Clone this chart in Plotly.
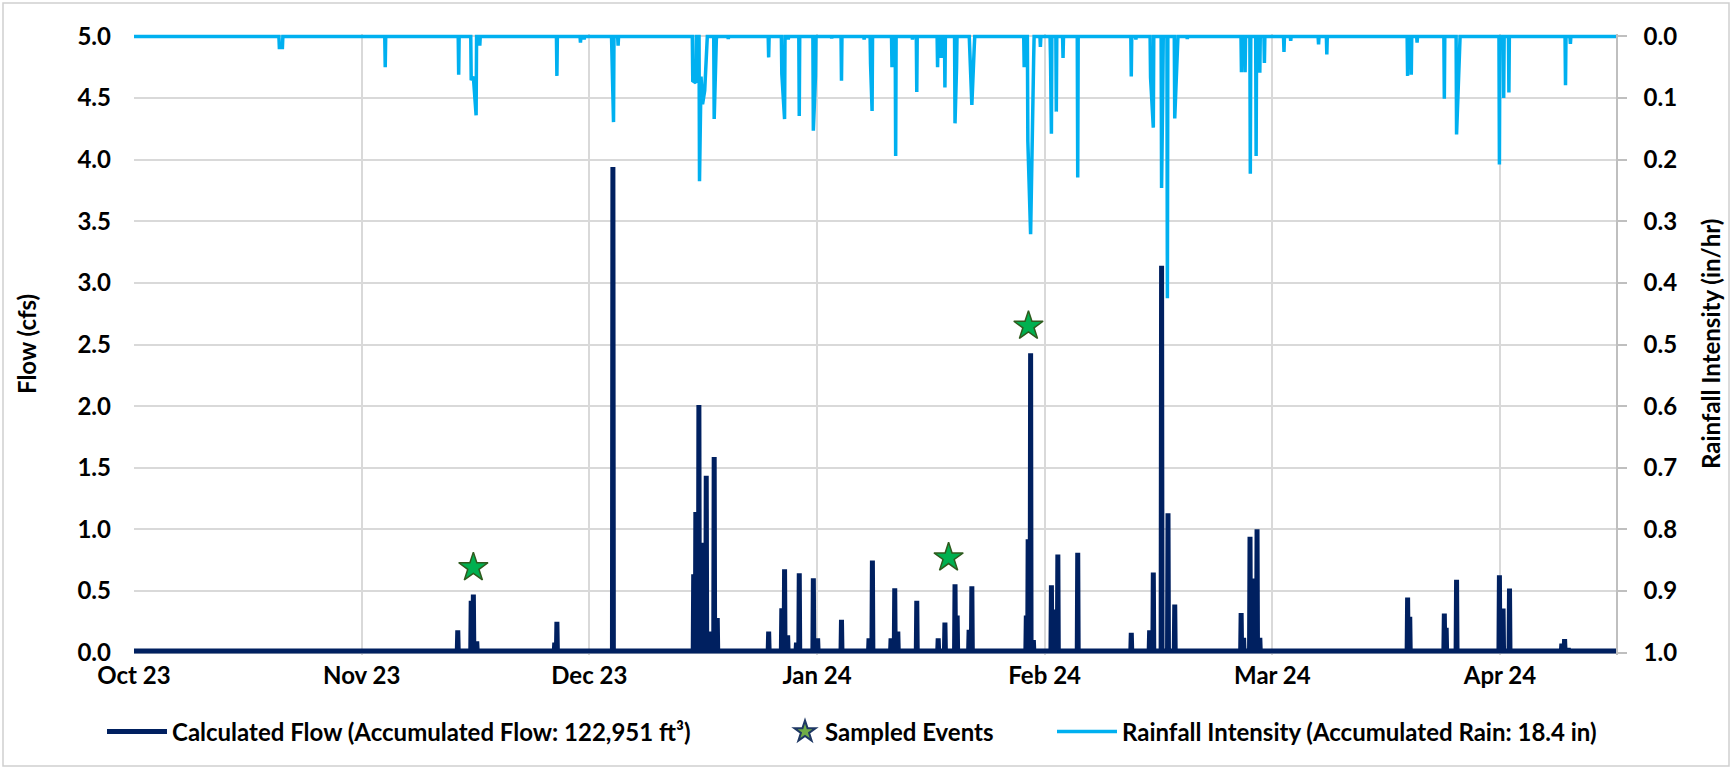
import pandas as pd
import plotly.graph_objects as go

FLOW_COLOR = "#002060"
RAIN_COLOR = "#00B0F0"
GRID_COLOR = "#D9D9D9"
FONT = "Lato"
FONT_SIZE = 24

# time axis: ticks every 31 days from the start of the record
x_start = "2023-10-01 00:00"
x_end = "2024-04-19 19:00"
tick_labels = ["Oct 23", "Nov 23", "Dec 23", "Jan 24", "Feb 24", "Mar 24", "Apr 24"]

# value axes
flow_ticks = [0.0, 0.5, 1.0, 1.5, 2.0, 2.5, 3.0, 3.5, 4.0, 4.5, 5.0]
rain_ticks = [0.0, 0.1, 0.2, 0.3, 0.4, 0.5, 0.6, 0.7, 0.8, 0.9, 1.0]

# calculated flow (cfs): storm peaks; the line rests on a small baseline between them
flow_base = 0.012
flow_times = [
    "2023-11-14 02:00", "2023-11-15 22:00", "2023-11-16 05:00", "2023-11-16 16:00",
    "2023-11-27 07:00", "2023-11-27 14:00", "2023-12-05 05:00",
    "2023-12-16 05:00", "2023-12-16 12:00", "2023-12-16 22:00", "2023-12-17 08:00",
    "2023-12-17 22:00", "2023-12-18 07:00", "2023-12-19 00:00", "2023-12-19 10:00",
    "2023-12-26 10:00", "2023-12-28 05:00", "2023-12-28 14:00", "2023-12-29 00:00",
    "2023-12-30 05:00", "2023-12-30 14:00", "2024-01-01 12:00", "2024-01-02 02:00",
    "2024-01-05 08:00", "2024-01-09 02:00", "2024-01-09 13:00",
    "2024-01-12 02:00", "2024-01-12 14:00", "2024-01-13 00:00", "2024-01-15 14:00",
    "2024-01-18 12:00", "2024-01-19 10:00", "2024-01-20 19:00", "2024-01-21 02:00",
    "2024-01-22 17:00", "2024-01-23 02:00",
    "2024-01-30 12:00", "2024-01-30 18:00", "2024-01-31 02:00", "2024-01-31 11:00",
    "2024-02-02 22:00", "2024-02-03 10:00", "2024-02-03 19:00", "2024-02-06 12:00",
    "2024-02-13 19:00", "2024-02-16 07:00", "2024-02-16 19:00", "2024-02-17 22:00",
    "2024-02-18 19:00", "2024-02-19 17:00",
    "2024-02-28 18:00", "2024-02-29 02:00", "2024-02-29 23:00", "2024-03-01 11:00",
    "2024-03-01 22:00", "2024-03-02 07:00",
    "2024-03-22 10:00", "2024-03-22 17:00", "2024-03-27 10:00", "2024-03-27 16:00",
    "2024-03-29 02:00", "2024-04-03 22:00", "2024-04-04 10:00", "2024-04-05 07:00",
    "2024-04-12 10:00", "2024-04-12 19:00", "2024-04-13 07:00",
]
flow_values = [
    0.18, 0.42, 0.47, 0.09,
    0.08, 0.25, 3.94,
    0.635, 1.14, 2.01, 0.89,
    1.435, 0.17, 1.586, 0.28,
    0.17, 0.36, 0.676, 0.14,
    0.08, 0.643, 0.603, 0.116,
    0.265, 0.116, 0.746,
    0.116, 0.522, 0.17, 0.42,
    0.116, 0.243, 0.554, 0.30,
    0.185, 0.538,
    0.30, 0.92, 2.43, 0.10,
    0.546, 0.35, 0.795, 0.81,
    0.16, 0.18, 0.65, 3.14,
    1.13, 0.39,
    0.32, 0.12, 0.94, 0.60,
    1.00, 0.12,
    0.446, 0.29, 0.316, 0.20,
    0.59, 0.627, 0.357, 0.52,
    0.073, 0.11, 0.035,
]

# rainfall intensity (in/hr)
rain_base = 0.0
rain_times = [
    "2023-10-20 19:00", "2023-10-21 05:00", "2023-11-04 05:00", "2023-11-14 05:00",
    "2023-11-15 22:00", "2023-11-16 05:00", "2023-11-16 14:00", "2023-11-17 02:00",
    "2023-11-27 14:00", "2023-11-30 19:00", "2023-12-01 07:00",
    "2023-12-05 02:00", "2023-12-05 07:00", "2023-12-05 22:00",
    "2023-12-16 02:00", "2023-12-16 12:00", "2023-12-17 00:00", "2023-12-17 05:00",
    "2023-12-17 10:00", "2023-12-17 17:00", "2023-12-18 00:00", "2023-12-19 00:00",
    "2023-12-19 07:00", "2023-12-20 22:00",
    "2023-12-26 10:00", "2023-12-28 05:00", "2023-12-28 14:00", "2023-12-29 02:00",
    "2023-12-30 14:00", "2024-01-01 12:00", "2024-01-01 19:00", "2024-01-04 00:00",
    "2024-01-05 08:00", "2024-01-08 10:00", "2024-01-09 07:00", "2024-01-09 12:00",
    "2024-01-12 05:00", "2024-01-12 17:00", "2024-01-15 00:00", "2024-01-15 14:00",
    "2024-01-18 10:00", "2024-01-18 22:00", "2024-01-19 10:00", "2024-01-20 19:00",
    "2024-01-21 00:00", "2024-01-22 19:00", "2024-01-23 02:00", "2024-01-23 10:00",
    "2024-01-30 05:00", "2024-01-30 17:00", "2024-01-31 02:00", "2024-01-31 12:00",
    "2024-02-01 10:00", "2024-02-02 19:00", "2024-02-02 22:00", "2024-02-03 14:00",
    "2024-02-04 12:00", "2024-02-06 12:00", "2024-02-13 19:00", "2024-02-14 10:00",
    "2024-02-16 10:00", "2024-02-16 19:00", "2024-02-17 22:00", "2024-02-18 02:00",
    "2024-02-18 17:00", "2024-02-19 17:00", "2024-02-20 02:00", "2024-02-21 10:00",
    "2024-02-28 19:00", "2024-02-29 07:00", "2024-03-01 00:00", "2024-03-01 19:00",
    "2024-03-02 07:00", "2024-03-02 22:00", "2024-03-05 14:00", "2024-03-06 12:00",
    "2024-03-10 07:00", "2024-03-11 10:00", "2024-03-22 10:00", "2024-03-22 22:00",
    "2024-03-23 17:00", "2024-03-27 10:00", "2024-03-29 02:00", "2024-03-29 12:00",
    "2024-04-03 22:00", "2024-04-04 12:00", "2024-04-05 05:00", "2024-04-12 22:00",
    "2024-04-13 14:00",
]
rain_values = [
    0.018, 0.018, 0.05, 0.062,
    0.071, 0.065, 0.128, 0.015,
    0.064, 0.01, 0.005,
    0.046, 0.139, 0.015,
    0.072, 0.075, 0.235, 0.065,
    0.11, 0.088, 0.03, 0.134,
    0.005, 0.004,
    0.034, 0.061, 0.134, 0.005,
    0.129, 0.153, 0.064, 0.003,
    0.072, 0.005, 0.045, 0.121,
    0.05, 0.194, 0.005, 0.09,
    0.05, 0.035, 0.083, 0.141,
    0.05, 0.02, 0.111, 0.015,
    0.05, 0.17, 0.321, 0.035,
    0.017, 0.035, 0.158, 0.122,
    0.035, 0.229, 0.065, 0.005,
    0.067, 0.148, 0.246, 0.083,
    0.425, 0.133, 0.01, 0.004,
    0.058, 0.058, 0.223, 0.194,
    0.059, 0.043, 0.025, 0.007,
    0.013, 0.029, 0.064, 0.062,
    0.01, 0.101, 0.159, 0.012,
    0.208, 0.10, 0.091, 0.079,
    0.012,
]

# sampled storm events (plotted at flow value)
sample_times = ["2023-11-16 05:00", "2024-01-19 22:00", "2024-01-30 19:00"]
sample_values = [0.69, 0.77, 2.65]


def spike_series(times, values, base, join_hours, half_width_hours=1.5):
    """Turn peak readings into a line that rests on the baseline between events."""
    ts = list(pd.to_datetime(times))
    hw = pd.Timedelta(hours=half_width_hours)
    join = pd.Timedelta(hours=join_hours)
    xs, ys = [pd.Timestamp(x_start)], [base]
    for i, (t, v) in enumerate(zip(ts, values)):
        if i == 0 or t - ts[i - 1] >= join:
            xs.append(t - hw)
            ys.append(base)
        xs.append(t)
        ys.append(v)
        if i == len(ts) - 1 or ts[i + 1] - t >= join:
            xs.append(t + hw)
            ys.append(base)
    xs.append(pd.Timestamp(x_end))
    ys.append(base)
    return xs, ys


flow_x, flow_y = spike_series(flow_times, flow_values, flow_base, join_hours=6)
rain_x, rain_y = spike_series(rain_times, rain_values, rain_base, join_hours=12)

tick_vals = pd.date_range(x_start, periods=len(tick_labels), freq="31D")

fig = go.Figure()
fig.add_trace(go.Scatter(
    x=flow_x, y=flow_y, mode="lines",
    line=dict(color=FLOW_COLOR, width=5),
    name="Calculated Flow (Accumulated Flow: 122,951 ft³)",
    legend="legend",
))
fig.add_trace(go.Scatter(
    x=rain_x, y=rain_y, mode="lines", yaxis="y2",
    line=dict(color=RAIN_COLOR, width=3.5),
    name="Rainfall Intensity (Accumulated Rain: 18.4 in)",
    legend="legend3",
))
fig.add_trace(go.Scatter(
    x=sample_times, y=sample_values, mode="markers",
    marker=dict(symbol="star", size=22, color="#00B050",
                line=dict(color="#2F5B1E", width=1.5)),
    showlegend=False, name="Sampled Events",
))
# legend entry for the sampled events
fig.add_trace(go.Scatter(
    x=[None], y=[None], mode="markers",
    marker=dict(symbol="star", size=23, color="#70AD47",
                line=dict(color="#1F3864", width=2)),
    name="Sampled Events", legend="legend2",
))

L, R, T, B = 134, 116, 34, 114
W, H = 1732, 769
pw, ph = W - L - R, H - T - B


def px_x(p):
    return (p - L) / pw


def px_y(p):
    return (H - B - p) / ph


def bold(size=FONT_SIZE):
    return dict(family=FONT, size=size, color="#000000", weight="bold")


legend_common = dict(orientation="h", yanchor="middle", xanchor="left",
                     y=px_y(732), font=bold(), bgcolor="rgba(0,0,0,0)")

# outer chart border
border = dict(type="rect", xref="paper", yref="paper",
              x0=px_x(3), x1=px_x(1729), y0=px_y(766), y1=px_y(3),
              line=dict(color="#D0D0D0", width=1.5))

fig.update_layout(
    width=W, height=H,
    margin=dict(l=L, r=R, t=T, b=B),
    paper_bgcolor="white", plot_bgcolor="white",
    font=bold(),
    xaxis=dict(
        type="date", range=[x_start, x_end],
        tickmode="array", tickvals=tick_vals, ticktext=tick_labels,
        showgrid=True, gridcolor=GRID_COLOR, gridwidth=1.5,
        ticks="", showline=False, zeroline=False,
        tickfont=bold(), ticklabelstandoff=4,
    ),
    yaxis=dict(
        range=[-0.02, 5.02], tickmode="array", tickvals=flow_ticks,
        tickformat=".1f", showgrid=True, gridcolor=GRID_COLOR, gridwidth=2,
        zeroline=False, showline=False, ticks="",
        tickfont=bold(), ticklabelstandoff=22,
    ),
    yaxis2=dict(
        overlaying="y", side="right", range=[1.004, -0.004],
        tickmode="array", tickvals=rain_ticks, tickformat=".1f",
        showgrid=False, zeroline=False,
        showline=True, linecolor="#BFBFBF", linewidth=1.5,
        ticks="outside", ticklen=9, tickcolor="#BFBFBF", tickwidth=1.5,
        tickfont=bold(), ticklabelstandoff=12,
    ),
    legend=dict(x=px_x(102), itemwidth=60, **legend_common),
    legend2=dict(x=px_x(785), **legend_common),
    legend3=dict(x=px_x(1052), itemwidth=60, **legend_common),
    showlegend=True,
    annotations=[
        dict(text="Flow (cfs)", textangle=-90, x=px_x(26), y=px_y(344),
             xanchor="center", yanchor="middle",
             xref="paper", yref="paper", showarrow=False, font=bold()),
        dict(text="Rainfall Intensity (in/hr)", textangle=-90, x=px_x(1710), y=px_y(344),
             xanchor="center", yanchor="middle",
             xref="paper", yref="paper", showarrow=False, font=bold()),
    ],
    shapes=[border],
)

fig.write_html("out.html")
